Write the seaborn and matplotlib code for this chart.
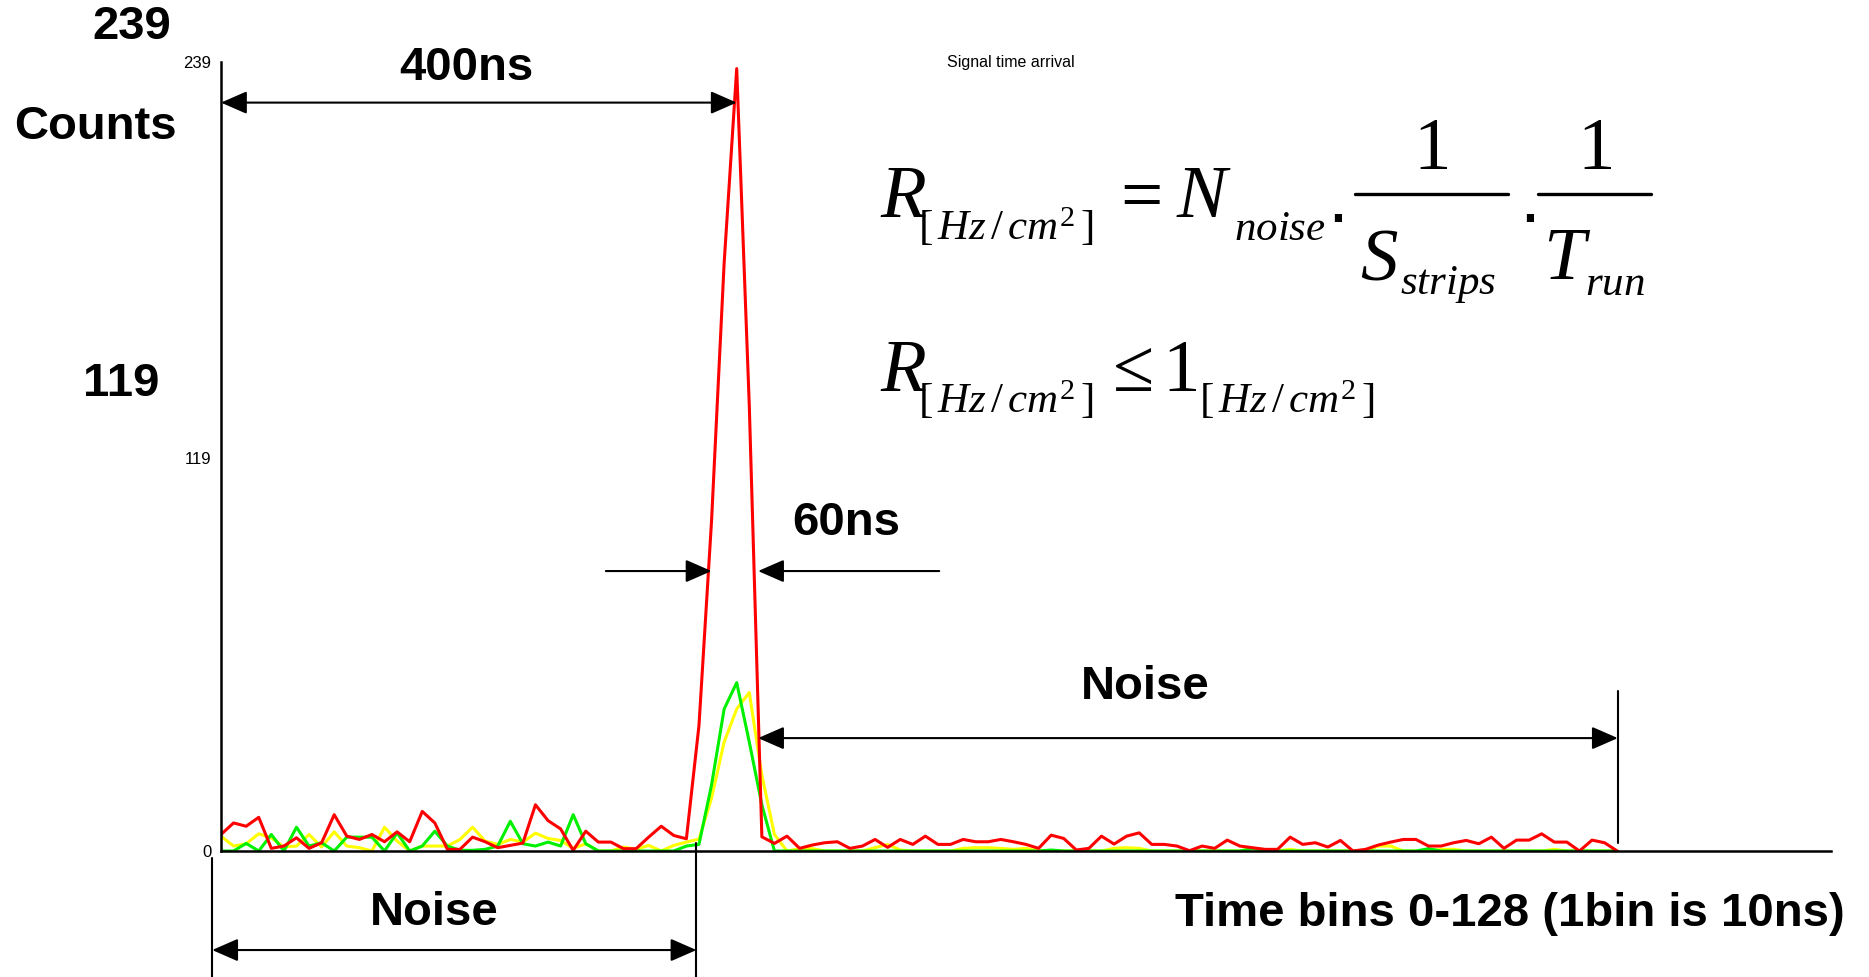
import numpy as np
import matplotlib
matplotlib.use("Agg")
import matplotlib.pyplot as plt
from matplotlib.lines import Line2D
import seaborn as sns

W, H = 1869, 977

# time bins (1 bin = 10 ns), counts
bins = np.arange(112)

red_counts = [
    5.0, 8.5, 7.5, 10.2, 0.8, 1.5, 4.0, 0.8, 2.5, 11.0,
    4.5, 3.5, 5.0, 2.8, 5.8, 2.8, 12.0, 8.5, 0.5, 0.5,
    4.2, 2.8, 1.0, 1.7, 2.4, 14.0, 9.2, 6.7, 0.2, 6.0,
    2.7, 2.7, 0.7, 0.7, 4.2, 7.5, 4.7, 3.7, 38.0, 100.0,
    178.0, 237.0, 135.0, 4.3, 2.3, 4.5, 0.8, 1.8, 2.5, 2.8,
    0.8, 1.5, 3.5, 1.1, 3.5, 2.0, 4.5, 2.0, 2.0, 3.5,
    2.8, 2.8, 3.5, 2.8, 2.0, 0.8, 4.8, 3.8, 0.3, 0.8,
    4.5, 2.1, 4.5, 5.5, 2.0, 2.0, 1.5, 0.1, 1.5, 0.8,
    3.3, 1.5, 1.0, 0.5, 0.5, 4.2, 2.0, 2.5, 1.2, 3.2,
    0.0, 0.5, 1.8, 2.7, 3.5, 3.5, 1.5, 1.5, 2.5, 3.2,
    2.2, 4.2, 0.8, 3.3, 3.3, 5.2, 2.7, 2.7, 0.0, 3.3,
    2.5, 0.0,
]

green_counts = [
    0, 0, 2.3, 0, 5.0, 0, 7.2, 1.5, 2.5, 0,
    4.2, 4.2, 4.2, 0, 5.5, 0, 1.5, 6.0, 1.5, 0.2,
    0.2, 0.5, 1.5, 9.0, 2.2, 1.5, 2.7, 1.5, 11.0, 2.2,
    0, 0, 0, 0, 0, 0, 0, 1.5, 2.0, 20,
    43, 51, 33, 14, 0, 0, 0, 0, 0, 0,
    0, 0, 0, 0, 0, 0, 0, 0, 0, 0,
    0, 0, 0, 0, 0, 0, 0.3, 0, 0, 0,
    0, 0, 0, 0, 0, 0, 0, 0, 0, 0,
    0, 0, 0.7, 0, 0, 0, 0, 0, 0, 0,
    0, 0, 0, 0, 0, 0, 0.7, 0, 0, 0,
    0, 0, 0, 0, 0, 0, 0, 0, 0, 0,
    0, 0,
]

yellow_counts = [
    4.5, 1.5, 2.2, 5.2, 4.0, 1.2, 1.5, 5.0, 1.2, 5.8,
    1.5, 1.0, 0, 7.2, 3.0, 0, 1.5, 1.5, 1.5, 3.5,
    7.2, 3.0, 2.0, 3.5, 2.7, 5.4, 3.8, 3.2, 0.8, 2.2,
    0, 0, 1.2, 0.5, 1.7, 0, 1.7, 2.7, 3.6, 16,
    33, 43, 48, 23, 5, 0, 0.7, 0.7, 0, 0,
    0, 0, 1.0, 2.0, 0.3, 0, 0, 0, 0, 0.8,
    1.0, 1.0, 0.8, 0.5, 0.8, 0, 0, 0, 0, 0,
    0, 0.8, 1.0, 0.8, 0, 0, 0, 0, 0, 0,
    0, 0, 0.8, 0, 0, 0.5, 0, 0, 0, 0,
    0, 0, 1.5, 1.5, 0, 0, 0, 0.5, 0.5, 0,
    0, 0, 0, 0, 0, 0, 0.5, 0, 0, 0,
    0, 0,
]

ytick_values = [0, 119, 239]

sns.set_style("white")
plt.rcParams["font.family"] = ["Liberation Sans", "DejaVu Sans"]
plt.rcParams["text.color"] = "black"
plt.rcParams["ytick.color"] = "black"
plt.rcParams["mathtext.fontset"] = "custom"
plt.rcParams["mathtext.rm"] = "Liberation Serif"
plt.rcParams["mathtext.it"] = "Liberation Serif:italic"


def fx(px):
    return px / W


def fy(py):
    return 1 - py / H


fig = plt.figure(figsize=(W / 100, H / 100), dpi=100)
ax = fig.add_axes([fx(221), fy(851), 1610 / W, 789 / H])

sns.lineplot(x=bins, y=yellow_counts, ax=ax, color="#FFFF00", lw=2.2)
sns.lineplot(x=bins, y=green_counts, ax=ax, color="#00F000", lw=2.2)
sns.lineplot(x=bins, y=red_counts, ax=ax, color="#FF0000", lw=2.2)

ax.set_xlim(0, 128)
ax.set_ylim(0, 239)
ax.set_xticks([])
ax.set_yticks(ytick_values)
ax.set_yticklabels([str(v) for v in ytick_values], fontsize=12)
ax.tick_params(axis="y", length=0, pad=7)
ax.set_xlabel("")
ax.set_ylabel("")
sns.despine(ax=ax)
for side in ["left", "bottom"]:
    ax.spines[side].set_color("black")
    ax.spines[side].set_linewidth(1.8)

# arrows (data coordinates: bins / counts)
def arrow(x0, y0, x1, y1, style="-|>"):
    ax.annotate("", xy=(x1, y1), xytext=(x0, y0),
                arrowprops=dict(arrowstyle=style + ",head_length=0.8,head_width=0.35",
                                color="black", lw=1.5, shrinkA=0, shrinkB=0,
                                mutation_scale=20),
                annotation_clip=False)

arrow(41.0, 226.7, 0.0, 226.7, "<|-|>")
arrow(30.6, 84.8, 39.0, 84.8)
arrow(57.1, 84.8, 42.7, 84.8)
arrow(42.7, 34.2, 111.05, 34.2, "<|-|>")
arrow(-0.7, -30.0, 37.8, -30.0, "<|-|>")
ax.plot([111.05, 111.05], [48.5, 2.4], color="black", lw=1.5, clip_on=False)
ax.plot([-0.7, -0.7], [-2.1, -38.5], color="black", lw=1.5, clip_on=False)
ax.plot([37.8, 37.8], [2.4, -38.5], color="black", lw=1.5, clip_on=False)

big = dict(fontsize=34, fontweight="bold", ha="center", va="center")
fig.text(fx(132), fy(27), "239", **big)
fig.text(fx(95), fy(127), "Counts", **big)
fig.text(fx(121), fy(384), "119", **big)
fig.text(fx(466), fy(68), "400ns", **big)
fig.text(fx(846), fy(523), "60ns", **big)
fig.text(fx(1145), fy(687), "Noise", **big)
fig.text(fx(434), fy(913), "Noise", **big)
fig.text(fx(1510), fy(914), "Time bins 0-128 (1bin is 10ns)", **big)

fig.text(fx(1011), fy(62), "Signal time arrival", fontsize=11.5, ha="center", va="center")

# rate formula, built piece by piece (base 54 pt, indices 31 pt)
BASE, SUB = 54, 31
unit = r"$[\,Hz\,/\,cm^2\,]$"


def piece(x, y, s, size, ha="left"):
    fig.text(fx(x), fy(y), s, fontsize=size, ha=ha, va="baseline")


piece(880, 217, r"$R$", BASE)
piece(918, 240, unit, SUB)
piece(1110, 217, r"$=$", BASE)
piece(1176, 217, r"$N$", BASE)
piece(1234, 240, r"$noise$", SUB)
piece(1327, 222, ".", BASE)
piece(1430, 169, r"$1$", BASE, ha="center")
fig.add_artist(Line2D([fx(1355), fx(1508)], [fy(194), fy(194)], color="black", lw=2.4))
piece(1360, 279, r"$S$", BASE)
piece(1400, 294, r"$strips$", SUB)
piece(1519, 222, ".", BASE)
piece(1594, 169, r"$1$", BASE, ha="center")
fig.add_artist(Line2D([fx(1538), fx(1651)], [fy(194), fy(194)], color="black", lw=2.4))
piece(1543, 279, r"$T$", BASE)
piece(1585, 295, r"$run$", SUB)

piece(880, 391, r"$R$", BASE)
piece(918, 413, unit, SUB)
piece(1102, 391, r"$\leq$", BASE)
piece(1162, 391, r"$1$", BASE)
piece(1199, 413, unit, SUB)

fig.savefig("out.png", dpi=100)
